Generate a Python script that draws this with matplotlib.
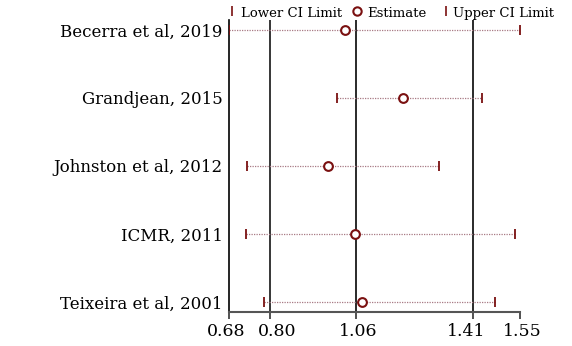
import matplotlib
matplotlib.use("Agg")
import matplotlib.pyplot as plt
from matplotlib.lines import Line2D
from matplotlib.transforms import ScaledTranslation

studies = ["Becerra et al, 2019", "Grandjean, 2015", "Johnston et al, 2012",
           "ICMR, 2011", "Teixeira et al, 2001"]
estimate = [1.026, 1.199, 0.976, 1.056, 1.076]
lower_ci = [0.680, 1.003, 0.731, 0.729, 0.783]
upper_ci = [1.550, 1.437, 1.307, 1.536, 1.476]
xticks = [0.68, 0.80, 1.06, 1.41, 1.55]
ref_lines = [0.80, 1.06, 1.41]

plt.rcParams["font.family"] = ["DejaVu Serif"]
red = "#7a1010"
dots = "#a87a84"

fig = plt.figure(figsize=(5.72, 3.46), dpi=100)
ax = fig.add_axes([0.4012, 0.0983, 0.5079, 0.8439])

n = len(studies)
ypos = list(range(n, 0, -1))

for x, c, w in zip(ref_lines, ["black", "#2a2a2a", "#2a2a2a"], [1.1, 1.4, 1.4]):
    ax.axvline(x, color=c, lw=w, zorder=1)

for y, lo, est, hi in zip(ypos, lower_ci, estimate, upper_ci):
    ax.plot([lo, hi], [y, y], ls=(0, (1, 1)), color=dots, lw=0.9, zorder=2)
    ax.plot([lo], [y], marker="|", ms=6.5, mew=1.3, color=red, ls="none", zorder=3)
    ax.plot([hi], [y], marker="|", ms=6.5, mew=1.3, color=red, ls="none", zorder=3)
    ax.plot([est], [y], marker="o", ms=6.3, mfc="white", mec=red, mew=1.5,
            ls="none", zorder=4)

ax.set_xlim(0.68, 1.55)
ax.set_ylim(1 - 0.147, n + 0.147)
ax.set_yticks(ypos)
ax.set_yticklabels(studies, fontsize=12)
ax.tick_params(axis="y", length=0, pad=5)
ax.set_xticks(xticks)
ax.set_xticklabels([f"{v:.2f}" for v in xticks], fontsize=12.5)
ax.tick_params(axis="x", length=5, width=1.2, pad=3, color="#333333")

# nudge the x tick labels sideways (pixels) so neighbouring labels breathe
nudges = [-3, 8, 2, -7, 2]
for lab, dx in zip(ax.get_xticklabels(), nudges):
    lab.set_transform(lab.get_transform() +
                      ScaledTranslation(dx / 100, 0, fig.dpi_scale_trans))

for s in ["top", "right"]:
    ax.spines[s].set_visible(False)
ax.spines["left"].set_linewidth(1.2)
ax.spines["bottom"].set_linewidth(1.5)
ax.spines["bottom"].set_color("#555555")

# legend row drawn across the top of the figure
W, H = 572, 346
legend_items = [
    ("|", "Lower CI Limit", 231.5, 241),
    ("o", "Estimate", 356.5, 367),
    ("|", "Upper CI Limit", 446, 453),
]
ly = 1 - 13.5 / H
for mk, text, mx, tx in legend_items:
    if mk == "o":
        fig.add_artist(Line2D([mx / W], [ly + 2 / H], marker="o", ms=6, mfc="white",
                              mec=red, mew=1.5, ls="none", transform=fig.transFigure))
    else:
        fig.add_artist(Line2D([mx / W], [ly + 2 / H], marker="|", ms=6.5, mew=1.2,
                              color=red, ls="none", transform=fig.transFigure))
    fig.text(tx / W, ly, text, fontsize=9.5, va="center", ha="left")

fig.savefig("out.png", dpi=100)
